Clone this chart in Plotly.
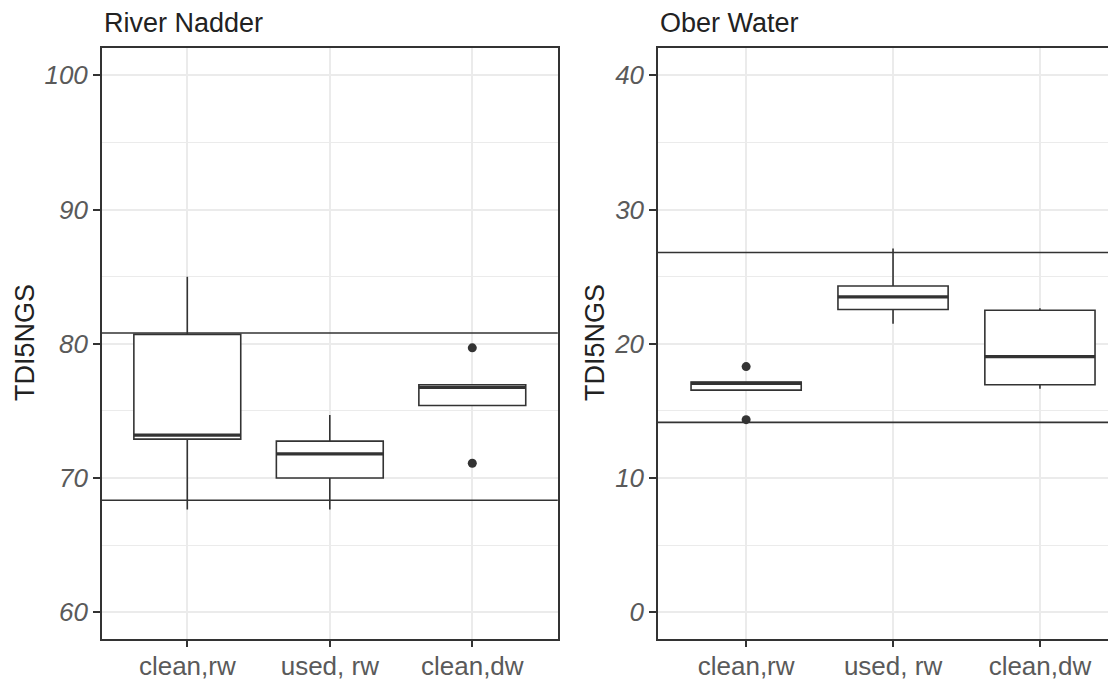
import plotly.graph_objects as go

# ---------------- data ----------------
categories = ["clean,rw", "used, rw", "clean,dw"]
panel_titles = ["River Nadder", "Ober Water"]
y_title = "TDI5NGS"

# River Nadder box statistics
nadder_lower = [67.65, 67.65, 75.4]
nadder_q1 = [72.9, 70.0, 75.4]
nadder_median = [73.2, 71.8, 76.75]
nadder_q3 = [80.7, 72.75, 76.95]
nadder_upper = [85.0, 74.7, 76.95]
nadder_outlier_cat = [3, 3]
nadder_outlier_val = [79.7, 71.1]
nadder_thresholds = [80.8, 68.35]

# Ober Water box statistics
ober_lower = [16.55, 21.5, 16.65]
ober_q1 = [16.55, 22.55, 16.95]
ober_median = [17.05, 23.5, 19.05]
ober_q3 = [17.15, 24.3, 22.5]
ober_upper = [17.15, 27.1, 22.65]
ober_outlier_cat = [1, 1]
ober_outlier_val = [18.3, 14.35]
ober_thresholds = [26.8, 14.15]

nadder_ticks = [60, 70, 80, 90, 100]
ober_ticks = [0, 10, 20, 30, 40]

# ---------------- style ----------------
OFF = 8                      # browser body margin
VW, VH = 1116, 680           # viewport
W, H = VW - OFF, VH - OFF    # figure size
BOX_W = 0.75
DARK = "#333333"
GRID = "#EBEBEB"
TICK_COL = "#5a5a5a"
FONT = "Liberation Sans, Arial, sans-serif"

positions = [1, 2, 3]


def px_x(v):
    return (v - OFF) / W


def px_y(v):
    return (H - (v - OFF)) / H


fig = go.Figure()


def add_panel(xa, ya, lower, q1, med, q3, upper, ocat, oval):
    fig.add_trace(go.Box(
        x=positions, q1=q1, median=med, q3=q3,
        lowerfence=lower, upperfence=upper,
        width=BOX_W, whiskerwidth=0,
        fillcolor="white", line=dict(color=DARK, width=1.6),
        boxpoints=False, showlegend=False, hoverinfo="skip",
        xaxis=xa, yaxis=ya,
    ))
    mx, my = [], []
    for p, m in zip(positions, med):
        mx += [p - BOX_W / 2, p + BOX_W / 2, None]
        my += [m, m, None]
    fig.add_trace(go.Scatter(
        x=mx, y=my, mode="lines", line=dict(color=DARK, width=3.2),
        showlegend=False, hoverinfo="skip", xaxis=xa, yaxis=ya,
    ))
    fig.add_trace(go.Scatter(
        x=ocat, y=oval, mode="markers",
        marker=dict(color=DARK, size=9),
        showlegend=False, hoverinfo="skip", xaxis=xa, yaxis=ya,
    ))


add_panel("x", "y", nadder_lower, nadder_q1, nadder_median, nadder_q3,
          nadder_upper, nadder_outlier_cat, nadder_outlier_val)
add_panel("x2", "y2", ober_lower, ober_q1, ober_median, ober_q3,
          ober_upper, ober_outlier_cat, ober_outlier_val)

for yv in nadder_thresholds:
    fig.add_shape(type="line", xref="x domain", yref="y", x0=0, x1=1,
                  y0=yv, y1=yv, line=dict(color=DARK, width=1.6))
for yv in ober_thresholds:
    fig.add_shape(type="line", xref="x2 domain", yref="y2", x0=0, x1=1,
                  y0=yv, y1=yv, line=dict(color=DARK, width=1.6))

left_dom = [px_x(101.8), px_x(557.8)]
right_dom = [px_x(658.0), 1.0]
y_dom = [px_y(639.3), px_y(48.3)]
right_span = (VW - 658.0) / 146.9

xaxis_common = dict(
    tickmode="array", tickvals=positions, ticktext=categories,
    showgrid=True, gridcolor=GRID, gridwidth=1.5,
    zeroline=False, showline=True, linecolor=DARK, linewidth=1.5,
    ticks="outside", ticklen=6, tickwidth=1.5, tickcolor=DARK,
    tickfont=dict(family=FONT, size=26, color=TICK_COL),
    ticklabelstandoff=-3, automargin=False, fixedrange=True,
)
yaxis_common = dict(
    showgrid=True, gridcolor=GRID, gridwidth=1.5,
    minor=dict(dtick=5, tick0=0, showgrid=True, gridcolor=GRID, gridwidth=1, ticks=""),
    zeroline=False, showline=True, linecolor=DARK, linewidth=1.5,
    ticks="outside", ticklen=7, tickwidth=1.5, tickcolor=DARK,
    tickfont=dict(family=FONT, size=26, color=TICK_COL, style="italic"),
    ticklabelstandoff=0, automargin=False, fixedrange=True,
)

fig.update_layout(
    width=W, height=H,
    margin=dict(l=0, r=0, t=0, b=0),
    paper_bgcolor="white", plot_bgcolor="white",
    xaxis=dict(domain=left_dom, range=[0.4, 3.6], mirror=True, anchor="y", **xaxis_common),
    yaxis=dict(domain=y_dom, range=[57.99, 102.01], mirror=True, anchor="x",
               tickvals=nadder_ticks, **yaxis_common),
    xaxis2=dict(domain=right_dom, range=[0.4, 0.4 + right_span], mirror=True, anchor="y2",
                **xaxis_common),
    yaxis2=dict(domain=y_dom, range=[-2.01, 42.01], mirror=False, anchor="x2",
                tickvals=ober_ticks, **yaxis_common),
    showlegend=False,
)

# panel titles
for title, xd in zip(panel_titles, [left_dom, right_dom]):
    fig.add_annotation(text=title, xref="paper", yref="paper",
                       x=xd[0], y=px_y(23), xanchor="left", yanchor="middle",
                       showarrow=False, font=dict(family=FONT, size=27, color="#222222"))
# y axis titles
for xc in [25, 595]:
    fig.add_annotation(text=y_title, xref="paper", yref="paper",
                       x=px_x(xc), y=px_y(343), xanchor="center", yanchor="middle",
                       textangle=-90, showarrow=False,
                       font=dict(family=FONT, size=27, color="#222222"))

fig.write_html("out.html")
